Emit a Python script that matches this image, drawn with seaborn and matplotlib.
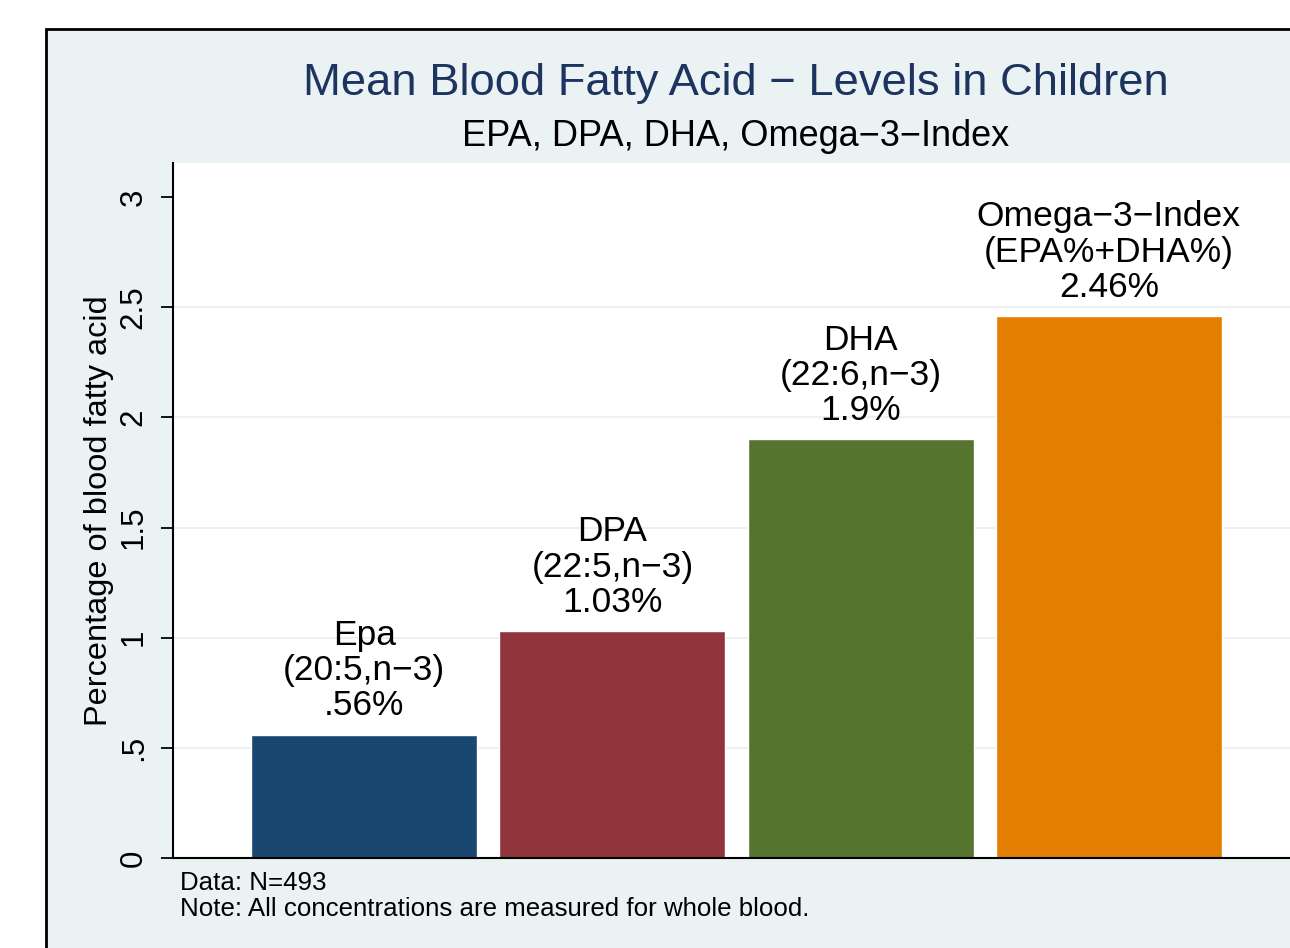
import matplotlib
matplotlib.use("Agg")
import matplotlib.pyplot as plt
import seaborn as sns
import pandas as pd
from matplotlib.patches import Rectangle

# data
acids = ["Epa", "DPA", "DHA", "Omega-3-Index"]
values = [0.56, 1.03, 1.90, 2.46]
label_text = [
    "Epa\n(20:5,n\u22123)\n.56%",
    "DPA\n(22:5,n\u22123)\n1.03%",
    "DHA\n(22:6,n\u22123)\n1.9%",
    "Omega\u22123\u2212Index\n(EPA%+DHA%)\n2.46%",
]
bar_colors = ["#1A476F", "#90353B", "#55752F", "#E37E00"]
ytick_vals = [0, 0.5, 1, 1.5, 2, 2.5, 3]
ytick_labels = ["0", ".5", "1", "1.5", "2", "2.5", "3"]

df = pd.DataFrame({"acid": acids, "value": values})

sns.set_style("white")
plt.rcParams["font.family"] = ["Liberation Sans", "DejaVu Sans"]
plt.rcParams["text.color"] = "black"
plt.rcParams["ytick.color"] = "black"
plt.rcParams["axes.labelcolor"] = "black"

bg = "#EAF2F3"
fig = plt.figure(figsize=(12.9, 9.48), dpi=100, facecolor="white")

# Stata-like outer graph region box (runs off the right/bottom edge)
fig.patches.append(Rectangle((46 / 1290, -0.05), 1.2, (948 - 29) / 948 + 0.05,
                             transform=fig.transFigure, facecolor=bg,
                             edgecolor="black", linewidth=2, zorder=-10))

ax = fig.add_axes([173 / 1290, 90 / 948, 1127 / 1290, 695 / 948])
ax.set_facecolor("white")

sns.barplot(data=df, x="acid", y="value", hue="acid", palette=bar_colors,
            width=0.91, legend=False, saturation=1, ax=ax, zorder=2)

ax.set_xlim(-0.77, 3.77)
ax.set_ylim(0, 3.155)

# labels above each bar
for i, (v, t) in enumerate(zip(values, label_text)):
    ax.annotate(t, (i, v), xytext=(0, 9), textcoords="offset points",
                ha="center", va="bottom", multialignment="center",
                fontsize=25.5, linespacing=1.08, color="black", zorder=3)

ax.set_yticks(ytick_vals)
ax.set_yticklabels(ytick_labels)
ax.tick_params(axis="y", direction="out", length=8.5, width=1.3, pad=9,
               labelsize=22.5, labelrotation=90, left=True)
for lab in ax.get_yticklabels():
    lab.set_va("center")
ax.set_xticks([])
ax.set_xlabel("")

ax.yaxis.grid(True, color=bg, linewidth=1.5, zorder=0)
ax.set_axisbelow(True)
gl = ax.get_ygridlines()
gl[0].set_visible(False)
gl[-1].set_visible(False)

ax.set_ylabel("Percentage of blood fatty acid", fontsize=23.4, va="center")
ax.yaxis.set_label_coords(-0.0655, 0.5)

for s in ["top", "right"]:
    ax.spines[s].set_visible(False)
ax.spines["left"].set_color("black")
ax.spines["left"].set_linewidth(1.5)
ax.spines["bottom"].set_color("black")
ax.spines["bottom"].set_linewidth(1.5)

# titles
fig.text(736 / 1290, (948 - 83) / 948, "Mean Blood Fatty Acid \u2212 Levels in Children",
         ha="center", va="center", fontsize=32.7, color="#1E3460")
fig.text(736 / 1290, (948 - 137) / 948, "EPA, DPA, DHA, Omega\u22123\u2212Index",
         ha="center", va="center", fontsize=26, color="black")

# notes
fig.text(180 / 1290, (948 - 883) / 948, "Data: N=493", ha="left", va="center",
         fontsize=18.6)
fig.text(180 / 1290, (948 - 909) / 948,
         "Note: All concentrations are measured for whole blood.",
         ha="left", va="center", fontsize=18.6)

fig.savefig("out.png", dpi=100, facecolor="white")
